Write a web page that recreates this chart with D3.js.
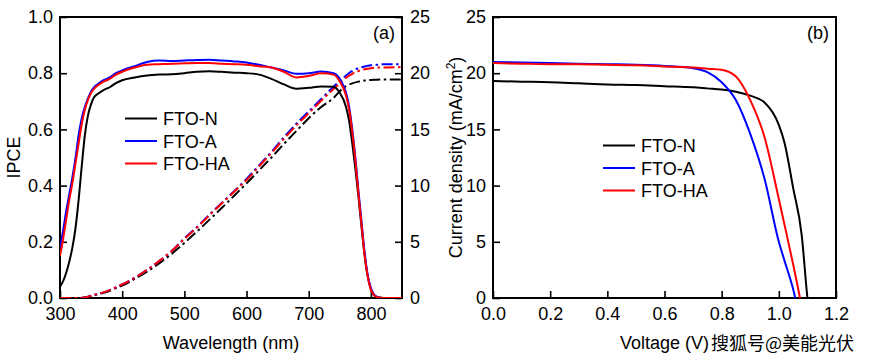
<!DOCTYPE html>
<html>
<head>
<meta charset="utf-8">
<script src="https://cdn.jsdelivr.net/npm/d3@7"></script>
<style>
  body { margin: 0; background: #fff; }
  text { font-family: "Liberation Sans", Arial, sans-serif; fill: #000; }
</style>
</head>
<body>
<div id="chart"></div>
<script>
// ---------------- DATA ----------------
// panel (a): IPCE + integrated current
const wavelengths = [300,305,310,315,320,325,330,335,340,345,350,355,360,370,380,390,400,420,440,460,480,500,520,540,560,580,600,620,640,660,680,700,720,740,750,760,765,770,775,780,785,790,795,800,805,810,820,830,850];
const ipceN  = [0.04,0.06,0.09,0.13,0.18,0.25,0.35,0.47,0.58,0.65,0.69,0.715,0.725,0.74,0.75,0.765,0.775,0.785,0.792,0.795,0.796,0.8,0.805,0.807,0.805,0.802,0.8,0.795,0.78,0.76,0.745,0.748,0.753,0.752,0.73,0.68,0.63,0.55,0.46,0.36,0.25,0.15,0.075,0.03,0.01,0.003,0,0,0];
const ipceA  = [0.18,0.24,0.31,0.37,0.43,0.5,0.58,0.64,0.68,0.71,0.735,0.75,0.76,0.775,0.785,0.8,0.81,0.825,0.84,0.845,0.843,0.845,0.847,0.848,0.845,0.842,0.838,0.83,0.82,0.81,0.798,0.8,0.806,0.8,0.78,0.73,0.68,0.6,0.5,0.38,0.27,0.16,0.08,0.035,0.012,0.004,0,0,0];
const ipceHA = [0.15,0.21,0.28,0.35,0.41,0.48,0.55,0.62,0.67,0.705,0.73,0.745,0.755,0.77,0.78,0.795,0.805,0.82,0.83,0.832,0.834,0.835,0.836,0.836,0.834,0.832,0.83,0.825,0.82,0.805,0.785,0.79,0.8,0.795,0.77,0.72,0.67,0.59,0.49,0.37,0.26,0.15,0.075,0.03,0.01,0.003,0,0,0];

const currWl  = [300,330,340,350,360,370,380,390,400,420,440,460,480,500,520,540,560,580,600,620,640,660,680,700,720,740,750,760,770,780,790,800,810,820,850];
const currN  = [0,0,0.04,0.18,0.32,0.46,0.65,0.88,1.1,1.7,2.35,3.1,3.95,4.9,5.9,6.95,8.0,9.1,10.2,11.35,12.5,13.7,14.85,16.0,17.0,17.8,18.4,18.85,19.1,19.25,19.35,19.4,19.42,19.45,19.45];
const currA  = [0,0,0.05,0.2,0.35,0.5,0.7,0.95,1.2,1.8,2.5,3.3,4.2,5.3,6.3,7.4,8.45,9.5,10.6,11.8,13.0,14.3,15.5,16.6,17.7,18.8,19.3,19.8,20.2,20.45,20.6,20.7,20.75,20.8,20.8];
const currHA = [0,0,0.05,0.2,0.35,0.5,0.7,0.95,1.2,1.8,2.5,3.3,4.2,5.25,6.25,7.35,8.4,9.45,10.5,11.7,12.9,14.15,15.35,16.45,17.55,18.6,19.1,19.6,19.95,20.2,20.35,20.45,20.5,20.5,20.55];

// panel (b): J-V curves
const volts = [0,0.1,0.2,0.3,0.4,0.5,0.6,0.7,0.75,0.8,0.85,0.9,0.95,1.0,1.02,1.05,1.08,1.1,1.12];
const jvN  = [19.3,19.25,19.2,19.1,19.0,18.95,18.85,18.75,18.65,18.55,18.35,18.0,17.4,15.4,13.8,9.8,5.6,0,-4];
const jvA  = [21.0,20.95,20.9,20.85,20.8,20.75,20.65,20.45,20.1,19.2,17.6,14.6,10.6,5.0,3.3,0.8,-2.6,-4.6,-6.6];
const jvHA = [20.9,20.85,20.8,20.8,20.75,20.7,20.6,20.5,20.4,20.3,19.7,17.6,14.3,8.8,6.5,3.0,-0.8,-3.6,-6.2];

const seriesNames  = ["FTO-N", "FTO-A", "FTO-HA"];
const seriesColors = ["#000000", "#0000ff", "#ff0000"];

const ipceTicks = [0, 0.2, 0.4, 0.6, 0.8, 1.0];
const currTicks = [0, 5, 10, 15, 20, 25];
const wlTicks   = [300, 400, 500, 600, 700, 800];
const vTicks    = [0, 0.2, 0.4, 0.6, 0.8, 1.0, 1.2];

// ---------------- LAYOUT ----------------
const W = 869, H = 360;
const yTop = 17, yBot = 298;
const pa = { left: 60, right: 402 };
const pb = { left: 493, right: 836 };

const svg = d3.select("#chart").append("svg")
  .attr("width", W).attr("height", H);

const defs = svg.append("defs");
defs.append("clipPath").attr("id", "clipA").append("rect")
  .attr("x", pa.left).attr("y", yTop).attr("width", pa.right - pa.left).attr("height", yBot - yTop);
defs.append("clipPath").attr("id", "clipB").append("rect")
  .attr("x", pb.left).attr("y", yTop).attr("width", pb.right - pb.left).attr("height", yBot - yTop);

// scales
const xA  = d3.scaleLinear().domain([300, 850]).range([pa.left, pa.right]);
const yA  = d3.scaleLinear().domain([0, 1]).range([yBot, yTop]);
const yA2 = d3.scaleLinear().domain([0, 25]).range([yBot, yTop]);
const xB  = d3.scaleLinear().domain([0, 1.2]).range([pb.left, pb.right]);
const yB  = d3.scaleLinear().domain([0, 25]).range([yBot, yTop]);

// helper: major + minor ticks pointing inward
function drawAxis(axisFn, scale, translate, major, minor, fmt, pad) {
  const g = svg.append("g").attr("transform", translate);
  g.call(axisFn(scale).tickValues(minor).tickSize(-3.5).tickFormat(""));
  g.call(axisFn(scale).tickValues(major).tickSize(-7).tickPadding(pad).tickFormat(fmt));
  g.selectAll("path.domain").remove();
  g.selectAll("line").attr("stroke", "#000").attr("stroke-width", 1.6);
  g.selectAll("text").style("font-size", "18px").attr("fill", "#000");
  return g;
}

const f1 = d3.format(".1f");
const f0 = d3.format("d");

// panel (a) axes
drawAxis(d3.axisBottom, xA, `translate(0,${yBot})`, wlTicks, [350,450,550,650,750], f0, 9);
drawAxis(d3.axisLeft, yA, `translate(${pa.left},0)`, ipceTicks, [0.1,0.3,0.5,0.7,0.9], f1, 7);
drawAxis(d3.axisRight, yA2, `translate(${pa.right},0)`, currTicks, [2.5,7.5,12.5,17.5,22.5], f0, 8);

// panel (b) axes
drawAxis(d3.axisBottom, xB, `translate(0,${yBot})`, vTicks, [0.1,0.3,0.5,0.7,0.9,1.1], f1, 9);
drawAxis(d3.axisLeft, yB, `translate(${pb.left},0)`, currTicks, [2.5,7.5,12.5,17.5,22.5], f0, 7);

// frames
[pa, pb].forEach(p => {
  svg.append("rect")
    .attr("x", p.left).attr("y", yTop)
    .attr("width", p.right - p.left).attr("height", yBot - yTop)
    .attr("fill", "none").attr("stroke", "#000").attr("stroke-width", 2);
});

// ---------------- CURVES ----------------
const gA = svg.append("g").attr("clip-path", "url(#clipA)");
const ipceLine = d3.line().x(d => xA(d[0])).y(d => yA(d[1])).curve(d3.curveMonotoneX);
const currLine = d3.line().x(d => xA(d[0])).y(d => yA2(d[1])).curve(d3.curveMonotoneX);

[currN, currA, currHA].forEach((s, i) => {
  gA.append("path")
    .datum(currWl.map((w, j) => [w, s[j]]))
    .attr("d", currLine)
    .attr("fill", "none")
    .attr("stroke", seriesColors[i])
    .attr("stroke-width", 2)
    .attr("stroke-dasharray", "11,3.5,2.5,3.5");
});

[ipceN, ipceA, ipceHA].forEach((s, i) => {
  gA.append("path")
    .datum(wavelengths.map((w, j) => [w, s[j]]))
    .attr("d", ipceLine)
    .attr("fill", "none")
    .attr("stroke", seriesColors[i])
    .attr("stroke-width", 2);
});

const gB = svg.append("g").attr("clip-path", "url(#clipB)");
const jvLine = d3.line().x(d => xB(d[0])).y(d => yB(d[1])).curve(d3.curveMonotoneX);
[jvN, jvA, jvHA].forEach((s, i) => {
  gB.append("path")
    .datum(volts.map((v, j) => [v, s[j]]))
    .attr("d", jvLine)
    .attr("fill", "none")
    .attr("stroke", seriesColors[i])
    .attr("stroke-width", 2);
});

// ---------------- LEGENDS ----------------
function legend(x0, y0, step) {
  seriesNames.forEach((name, i) => {
    const y = y0 + i * step;
    svg.append("line")
      .attr("x1", x0).attr("x2", x0 + 32)
      .attr("y1", y - 6.5).attr("y2", y - 6.5)
      .attr("stroke", seriesColors[i]).attr("stroke-width", 2);
    svg.append("text")
      .attr("x", x0 + 38).attr("y", y)
      .style("font-size", "18px")
      .text(name);
  });
}
legend(125, 125, 22.5);
legend(603, 152, 22.5);

// panel labels
svg.append("text").attr("x", 395).attr("y", 39).attr("text-anchor", "end")
  .style("font-size", "18px").text("(a)");
svg.append("text").attr("x", 829).attr("y", 39).attr("text-anchor", "end")
  .style("font-size", "18px").text("(b)");

// axis titles
svg.append("text")
  .attr("x", (pa.left + pa.right) / 2).attr("y", 349)
  .attr("text-anchor", "middle").style("font-size", "18px")
  .text("Wavelength (nm)");

svg.append("text")
  .attr("x", (pb.left + pb.right) / 2).attr("y", 349)
  .attr("text-anchor", "middle").style("font-size", "18px")
  .text("Voltage (V)");

svg.append("text")
  .attr("transform", `translate(20,${(yTop + yBot) / 2}) rotate(-90)`)
  .attr("text-anchor", "middle").style("font-size", "18px")
  .text("IPCE");

const yt = svg.append("text")
  .attr("transform", `translate(462,${(yTop + yBot) / 2}) rotate(-90)`)
  .attr("text-anchor", "middle").style("font-size", "18px");
yt.append("tspan").text("Current density (mA/cm");
yt.append("tspan").attr("dy", -7).style("font-size", "12px").text("2");
yt.append("tspan").attr("dy", 7).text(")");

// watermark
svg.append("text")
  .attr("x", 711).attr("y", 350)
  .style("font-family", "'Noto Sans CJK SC', sans-serif")
  .style("font-size", "18px")
  .attr("fill", "#222")
  .text("搜狐号@美能光伏");
</script>
</body>
</html>
